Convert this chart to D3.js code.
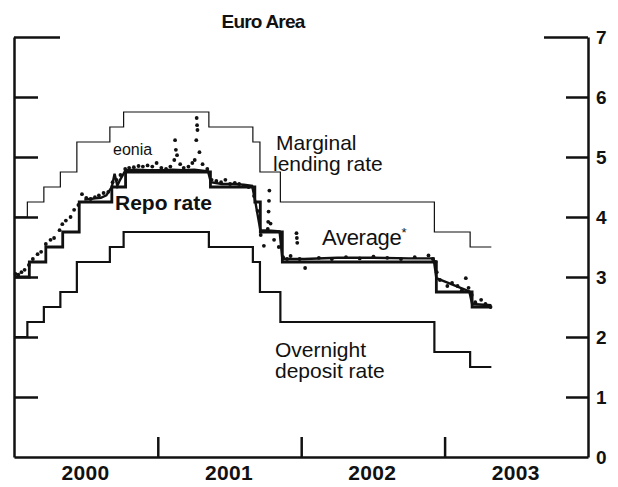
<!DOCTYPE html>
<html>
<head>
<meta charset="utf-8">
<script src="https://cdn.jsdelivr.net/npm/d3@7"></script>
<style>
  body { margin: 0; background: #fff; }
  svg { display: block; font-family: "Liberation Sans", Arial, sans-serif; }
</style>
</head>
<body>
<div id="chart"></div>
<script>
// euro area policy rates and eonia

var width = 618,
    height = 487;

var yearLabels = ["2000", "2001", "2002", "2003"];
var rateTicks = [0, 1, 2, 3, 4, 5, 6, 7];

// ECB corridor, step dates
var corridorDates = ["2000-01-01", "2000-02-04", "2000-03-17", "2000-04-28", "2000-06-09", "2000-09-01",
  "2000-10-06", "2001-05-11", "2001-08-31", "2001-09-18", "2001-11-09", "2002-12-06", "2003-03-07", "2003-04-30"];
var marginalRates = [4.0, 4.25, 4.5, 4.75, 5.25, 5.5, 5.75, 5.5, 5.25, 4.75, 4.25, 3.75, 3.5, 3.5];
var depositRates = [2.0, 2.25, 2.5, 2.75, 3.25, 3.5, 3.75, 3.5, 3.25, 2.75, 2.25, 1.75, 1.5, 1.5];

// repo (main refinancing) rate
var repoDates = ["2000-01-01", "2000-02-09", "2000-03-22", "2000-05-04", "2000-06-15", "2000-09-06",
  "2000-10-11", "2001-05-15", "2001-09-05", "2001-09-19", "2001-11-14", "2002-12-11", "2003-03-12", "2003-04-30"];
var repoRates = [3.0, 3.25, 3.5, 3.75, 4.25, 4.5, 4.75, 4.5, 4.25, 3.75, 3.25, 2.75, 2.5, 2.5];

// average tender rate
var avgDates = ["2000-06-28", "2000-07-12", "2000-07-26", "2000-08-09", "2000-08-23", "2000-09-06", "2000-09-13",
  "2000-09-20", "2000-09-27", "2000-10-11", "2000-11-08", "2000-12-06", "2001-01-10", "2001-02-07", "2001-03-07",
  "2001-04-04", "2001-05-09", "2001-05-16", "2001-06-13", "2001-07-11", "2001-08-08", "2001-08-29", "2001-09-05",
  "2001-09-19", "2001-10-17", "2001-11-07", "2001-11-14", "2002-01-09", "2002-04-03", "2002-07-03", "2002-10-02",
  "2002-12-04", "2002-12-11", "2003-03-05", "2003-03-12", "2003-04-30"];
var avgRates = [4.29, 4.30, 4.31, 4.32, 4.36, 4.50, 4.72, 4.52, 4.62, 4.78, 4.79, 4.78, 4.78, 4.79, 4.78,
  4.79, 4.76, 4.58, 4.55, 4.55, 4.54, 4.52, 4.30, 3.78, 3.77, 3.76, 3.30, 3.30, 3.32, 3.32, 3.31,
  3.31, 2.98, 2.76, 2.55, 2.53];

// eonia, dotted
var eoniaDates = ["2000-01-05", "2000-01-12", "2000-01-20", "2000-01-28", "2000-02-08", "2000-02-18", "2000-03-01",
  "2000-03-10", "2000-03-22", "2000-04-03", "2000-04-12", "2000-04-26", "2000-05-03", "2000-05-12", "2000-05-24",
  "2000-06-02", "2000-06-13", "2000-06-22", "2000-07-03", "2000-07-14", "2000-07-25", "2000-08-04", "2000-08-16",
  "2000-08-28", "2000-09-08", "2000-09-18", "2000-09-28", "2000-10-10", "2000-10-20", "2000-11-01", "2000-11-13",
  "2000-11-24", "2000-12-06", "2000-12-18", "2000-12-29", "2001-01-10", "2001-01-22", "2001-02-02", "2001-02-12",
  "2001-02-14", "2001-02-16", "2001-02-19", "2001-02-27", "2001-03-08", "2001-03-20", "2001-03-30", "2001-04-05",
  "2001-04-09", "2001-04-10", "2001-04-11", "2001-04-12", "2001-04-17", "2001-04-25", "2001-05-07", "2001-05-18",
  "2001-05-30", "2001-06-11", "2001-06-22", "2001-07-04", "2001-07-16", "2001-07-27", "2001-08-08", "2001-08-20",
  "2001-09-03", "2001-09-12", "2001-09-20", "2001-09-28", "2001-10-08", "2001-10-09", "2001-10-10", "2001-10-11",
  "2001-10-12", "2001-10-15", "2001-10-24", "2001-11-05", "2001-11-16", "2001-11-26", "2001-12-05", "2001-12-20",
  "2001-12-21", "2001-12-22", "2001-12-28", "2002-01-11", "2002-02-15", "2002-03-20", "2002-04-25", "2002-05-30",
  "2002-07-04", "2002-08-08", "2002-09-12", "2002-10-17", "2002-11-21", "2002-12-02", "2002-12-09", "2002-12-12",
  "2002-12-20", "2003-01-08", "2003-01-20", "2003-02-03", "2003-02-14", "2003-02-24", "2003-03-03", "2003-03-11",
  "2003-03-20", "2003-04-04", "2003-04-15", "2003-04-28"];
var eoniaRates = [3.05, 3.04, 3.08, 3.12, 3.20, 3.30, 3.38,
  3.42, 3.55, 3.62, 3.65, 3.78, 3.88, 3.94, 4.00,
  4.12, 4.20, 4.38, 4.32, 4.30, 4.33, 4.36, 4.40,
  4.42, 4.58, 4.62, 4.70, 4.80, 4.82, 4.83, 4.85,
  4.84, 4.86, 4.84, 4.90, 4.82, 4.80, 4.84, 4.95,
  5.28, 5.12, 5.03, 4.88, 4.82, 4.84, 4.90, 4.95,
  5.28, 5.65, 5.53, 5.45, 5.08, 4.88, 4.80, 4.62,
  4.60, 4.58, 4.62, 4.55, 4.57, 4.55, 4.52, 4.50,
  4.35, 4.10, 3.70, 3.52, 3.80, 3.92, 4.09, 4.27,
  4.44, 3.89, 3.62, 3.50, 3.33, 3.30, 3.35, 3.73,
  3.65, 3.57, 3.30, 3.15, 3.32, 3.30, 3.33, 3.31,
  3.34, 3.32, 3.30, 3.33, 3.36, 3.30, 3.25, 3.08,
  2.95, 2.85, 2.90, 2.85, 2.78, 2.98, 2.82, 2.70,
  2.58, 2.62, 2.55, 2.50];

var parse = d3.timeParse("%Y-%m-%d");

function zipSeries(dates, values) {
  return dates.map(function(d, i) { return { date: parse(d), value: values[i] }; });
}

var marginal = zipSeries(corridorDates, marginalRates);
var deposit = zipSeries(corridorDates, depositRates);
var repo = zipSeries(repoDates, repoRates);
var average = zipSeries(avgDates, avgRates);
var eonia = zipSeries(eoniaDates, eoniaRates);

var x = d3.scaleTime()
  .domain([parse("2000-01-01"), parse("2004-01-01")])
  .range([14, 588]);

var y = d3.scaleLinear()
  .domain([0, 7])
  .range([457, 37]);

var svg = d3.select("#chart").append("svg")
  .attr("width", width)
  .attr("height", height);

var ink = "#111";

// title
svg.append("text")
  .attr("x", 263)
  .attr("y", 28)
  .attr("text-anchor", "middle")
  .style("font-size", "19px")
  .style("font-weight", "bold")
  .style("letter-spacing", "-0.8px")
  .style("fill", ink)
  .text("Euro Area");

// left axis, ticks only
var leftAxis = svg.append("g")
  .attr("transform", "translate(" + x.range()[0] + ",0)")
  .call(d3.axisLeft(y).tickValues(rateTicks).tickSize(-24).tickSizeOuter(0).tickFormat(""));

// right axis with labels
var rightAxis = svg.append("g")
  .attr("transform", "translate(" + x.range()[1] + ",0)")
  .call(d3.axisRight(y).tickValues(rateTicks).tickSize(-22).tickSizeOuter(0).tickFormat(d3.format("d")));

// bottom axis, ticks at year boundaries
var bottomAxis = svg.append("g")
  .attr("transform", "translate(0," + y(0) + ")")
  .call(d3.axisBottom(x)
    .tickValues([parse("2001-01-01"), parse("2002-01-01"), parse("2003-01-01")])
    .tickSize(-20).tickSizeOuter(0).tickFormat(""));

[leftAxis, rightAxis, bottomAxis].forEach(function(g) {
  g.select(".domain").attr("stroke", ink).attr("stroke-width", 2.5);
  g.selectAll(".tick line").attr("stroke", ink).attr("stroke-width", 2.5);
});

// long top ticks at 7
leftAxis.selectAll(".tick line").filter(function(d) { return d === 7; }).attr("x2", 46);
rightAxis.selectAll(".tick line").filter(function(d) { return d === 7; }).attr("x2", -44);
leftAxis.selectAll(".tick line").filter(function(d) { return d === 0; }).remove();
rightAxis.selectAll(".tick line").filter(function(d) { return d === 0; }).remove();

rightAxis.selectAll(".tick text")
  .attr("x", 8)
  .attr("dy", "0.36em")
  .attr("text-anchor", "start")
  .style("font-family", "'Liberation Sans', Arial, sans-serif")
  .style("font-size", "19px")
  .style("font-weight", "bold")
  .style("fill", ink);

// year labels at mid-year
svg.selectAll(".year")
  .data(yearLabels)
  .enter().append("text")
  .attr("class", "year")
  .attr("x", function(d) { return x(parse(d + "-07-01")); })
  .attr("y", 480)
  .attr("text-anchor", "middle")
  .style("font-size", "21px")
  .style("font-weight", "bold")
  .style("letter-spacing", "0.3px")
  .style("fill", ink)
  .text(function(d) { return d; });

var stepLine = d3.line()
  .x(function(d) { return x(d.date); })
  .y(function(d) { return y(d.value); })
  .curve(d3.curveStepAfter);

var plainLine = d3.line()
  .x(function(d) { return x(d.date); })
  .y(function(d) { return y(d.value); });

svg.append("path")
  .datum(marginal)
  .attr("d", stepLine)
  .attr("fill", "none")
  .attr("stroke", ink)
  .attr("stroke-width", 1.2);

svg.append("path")
  .datum(deposit)
  .attr("d", stepLine)
  .attr("fill", "none")
  .attr("stroke", ink)
  .attr("stroke-width", 2.2);

svg.append("path")
  .datum(repo)
  .attr("d", stepLine)
  .attr("fill", "none")
  .attr("stroke", ink)
  .attr("stroke-width", 2.8);

svg.append("path")
  .datum(average)
  .attr("d", plainLine)
  .attr("fill", "none")
  .attr("stroke", ink)
  .attr("stroke-width", 2.4);

svg.selectAll(".eonia")
  .data(eonia)
  .enter().append("circle")
  .attr("class", "eonia")
  .attr("cx", function(d) { return x(d.date); })
  .attr("cy", function(d) { return y(d.value); })
  .attr("r", 1.9)
  .attr("fill", ink);

// series labels
var labels = [
  { t: "Marginal", x: 276, y: 150, s: 21, w: "normal" },
  { t: "lending rate", x: 273, y: 171, s: 21, w: "normal" },
  { t: "eonia", x: 113, y: 155, s: 16, w: "normal" },
  { t: "Repo rate", x: 115, y: 210, s: 21, w: "bold" },
  { t: "Overnight", x: 275, y: 357, s: 21, w: "normal" },
  { t: "deposit rate", x: 275, y: 378, s: 21, w: "normal" }
];

svg.selectAll(".lbl")
  .data(labels)
  .enter().append("text")
  .attr("class", "lbl")
  .attr("x", function(d) { return d.x; })
  .attr("y", function(d) { return d.y; })
  .style("font-size", function(d) { return d.s + "px"; })
  .style("font-weight", function(d) { return d.w; })
  .style("letter-spacing", "0px")
  .style("fill", ink)
  .text(function(d) { return d.t; });

var avgLabel = svg.append("text")
  .attr("x", 322)
  .attr("y", 245)
  .style("font-size", "22px")
  .style("letter-spacing", "-0.3px")
  .style("fill", ink)
  .text("Average");
avgLabel.append("tspan")
  .attr("dy", -8)
  .style("font-size", "13px")
  .text("*");
</script>
</body>
</html>
